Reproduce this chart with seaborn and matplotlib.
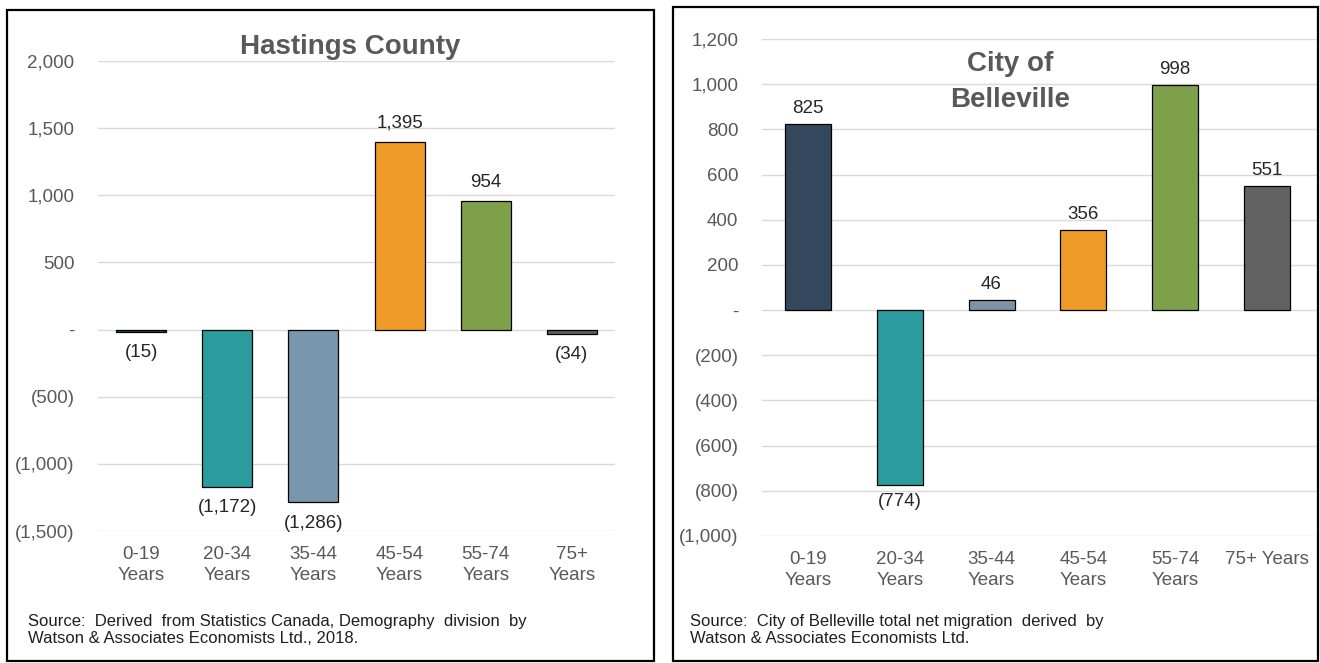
import matplotlib
matplotlib.use("Agg")
import matplotlib.pyplot as plt
import matplotlib.ticker as mticker
import seaborn as sns
from matplotlib.patches import Rectangle

# ---- data ----
age_groups_left = ["0-19\nYears", "20-34\nYears", "35-44\nYears", "45-54\nYears", "55-74\nYears", "75+\nYears"]
hastings_values = [-15, -1172, -1286, 1395, 954, -34]

age_groups_right = ["0-19\nYears", "20-34\nYears", "35-44\nYears", "45-54\nYears", "55-74\nYears", "75+ Years"]
belleville_values = [825, -774, 46, 356, 998, 551]

bar_colors_left = ["#2F4459", "#2A9C9E", "#7896AC", "#EE9B27", "#7EA04A", "#5F5F5F"]
bar_colors_right = ["#33485C", "#2A9C9E", "#7D94A4", "#EE9B27", "#7EA04A", "#626262"]

left_title = "Hastings County"
right_title = "City of\nBelleville"
left_source = ("Source:  Derived  from Statistics Canada, Demography  division  by\n"
               "Watson & Associates Economists Ltd., 2018.")
right_source = ("Source:  City of Belleville total net migration  derived  by\n"
                "Watson & Associates Economists Ltd.")

sns.set_style("white")
plt.rcParams["font.family"] = ["Liberation Sans", "DejaVu Sans"]

TICK_GRAY = "#595959"
LABEL_DARK = "#262626"


def paren_fmt(v, pos=None):
    if abs(v) < 1e-9:
        return "-"
    s = f"{abs(v):,.0f}"
    return f"({s})" if v < 0 else s


def draw_panel(ax, cats, vals, colors, ylim, step, width, off_up, off_down):
    sns.barplot(x=cats, y=vals, hue=cats, palette=colors, ax=ax,
                edgecolor="black", linewidth=0.9, width=width,
                legend=False, saturation=1)
    ax.set_ylim(*ylim)
    ax.yaxis.set_major_locator(mticker.MultipleLocator(step))
    ax.yaxis.set_major_formatter(mticker.FuncFormatter(paren_fmt))
    ax.grid(axis="y", color="#D9D9D9", linewidth=1.0)
    ax.set_axisbelow(True)
    for sp in ax.spines.values():
        sp.set_visible(False)
    ax.tick_params(axis="both", length=0, labelsize=13.5, labelcolor=TICK_GRAY)
    ax.tick_params(axis="y", pad=17)
    ax.tick_params(axis="x", pad=11)
    for lab in ax.get_xticklabels():
        lab.set_linespacing(1.3)
    ax.set_xlabel("")
    ax.set_ylabel("")
    for i, v in enumerate(vals):
        dy = off_up if v >= 0 else -off_down
        ax.annotate(paren_fmt(v), (i, v), xytext=(0, dy), textcoords="offset points",
                    ha="center", va="center", fontsize=13.5, color=LABEL_DARK)


fig = plt.figure(figsize=(13.2, 6.63), dpi=100)
fig.patch.set_facecolor("white")

# left panel
ax1 = fig.add_axes([98 / 1320, 1 - 531 / 663, 517 / 1320, 470 / 663])
draw_panel(ax1, age_groups_left, hastings_values, bar_colors_left,
           (-1500, 2000), 500, 0.58, 14, 15)
ax1.set_xlim(-0.5, 5.5)
ax1.text(0.487, 1.03, left_title, transform=ax1.transAxes, ha="center", va="center",
         fontsize=20, fontweight="bold", color="#595959")

# right panel
ax2 = fig.add_axes([762 / 1320, 1 - 536 / 663, 556 / 1320, 497 / 663])
draw_panel(ax2, age_groups_right, belleville_values, bar_colors_right,
           (-1000, 1200), 200, 0.5, 11, 12)
ax2.set_xlim(-0.5, 5.555)
ax2.text(0.446, 0.913, right_title, transform=ax2.transAxes, ha="center", va="center",
         fontsize=20, fontweight="bold", color="#595959", linespacing=1.5)

# source notes
fig.text(28 / 1320, 1 - 630 / 663, left_source, ha="left", va="center",
         fontsize=12, color="#1F1F1F", linespacing=1.2)
fig.text(690 / 1320, 1 - 630 / 663, right_source, ha="left", va="center",
         fontsize=12, color="#1F1F1F", linespacing=1.2)

# panel frames
for x0, y0, x1, y1 in [(7, 10, 654, 661), (673, 7, 1318, 661)]:
    fig.add_artist(Rectangle((x0 / 1320, 1 - y1 / 663), (x1 - x0) / 1320, (y1 - y0) / 663,
                             transform=fig.transFigure, fill=False,
                             edgecolor="black", linewidth=1.6))

fig.savefig("out.png", dpi=100, facecolor="white")
